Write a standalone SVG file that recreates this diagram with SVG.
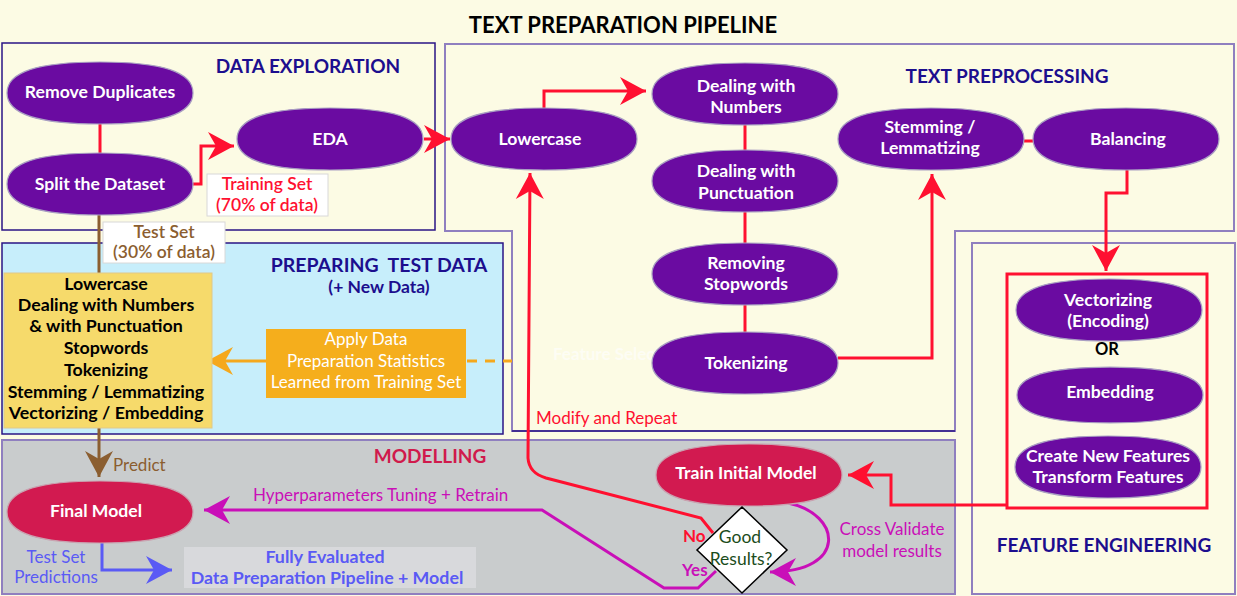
<svg xmlns="http://www.w3.org/2000/svg" xmlns:xlink="http://www.w3.org/1999/xlink" width="1237" height="596" viewBox="0 0 1237 596">
  <style>
    .frame-dark { fill: none; stroke: #2a1485; stroke-width: 1.5; }
    .frame-purple { fill: none; stroke: #8f7fbf; stroke-width: 2; }
    .section { font-family: Lato, "Open Sans", sans-serif; font-weight: 700; fill: #1c0e8e; text-anchor: middle; }
    .node { fill: #6a0ba1; stroke: #a99fc2; stroke-width: 1.2; }
    .node-red { fill: #d21a50; stroke: #c9a2b0; stroke-width: 1.2; }
    .nlabel { font-family: Lato, "Open Sans", sans-serif; font-weight: 700; font-size: 17.6px; fill: #ffffff; text-anchor: middle; }
    .red { fill: none; stroke: #ff1030; stroke-width: 3; }
    .magenta { fill: none; stroke: #c90fb8; stroke-width: 3; }
    .brown { fill: none; stroke: #8b5e30; stroke-width: 3; }
    .blue { fill: none; stroke: #5a5af5; stroke-width: 3; }
    .orange { fill: none; stroke: #f5a81c; stroke-width: 3; }
    .note { font-family: Lato, "Open Sans", sans-serif; font-size: 17.5px; text-anchor: middle; }
  </style>
  <defs>
    <!-- rounded lens shape used for the process steps -->
    <path id="pill" d="M-93,0 C-93,-21 -63,-31 0,-31 C63,-31 93,-21 93,0 C93,21 63,31 0,31 C-63,31 -93,21 -93,0 Z"/>
    <marker id="ah-red" viewBox="-27 -15 28 30" markerWidth="28" markerHeight="30" refX="0" refY="0" orient="auto" markerUnits="userSpaceOnUse">
      <path d="M0,0 L-26,-14 L-18,0 L-26,14 Z" fill="#ff1030"/>
    </marker>
    <marker id="ah-magenta" viewBox="-27 -15 28 30" markerWidth="28" markerHeight="30" refX="0" refY="0" orient="auto" markerUnits="userSpaceOnUse">
      <path d="M0,0 L-26,-14 L-18,0 L-26,14 Z" fill="#c90fb8"/>
    </marker>
    <marker id="ah-brown" viewBox="-27 -15 28 30" markerWidth="28" markerHeight="30" refX="0" refY="0" orient="auto" markerUnits="userSpaceOnUse">
      <path d="M0,0 L-26,-14 L-18,0 L-26,14 Z" fill="#8b5e30"/>
    </marker>
    <marker id="ah-blue" viewBox="-27 -15 28 30" markerWidth="28" markerHeight="30" refX="0" refY="0" orient="auto" markerUnits="userSpaceOnUse">
      <path d="M0,0 L-26,-14 L-18,0 L-26,14 Z" fill="#5a5af5"/>
    </marker>
    <marker id="ah-orange" viewBox="-27 -15 28 30" markerWidth="28" markerHeight="30" refX="0" refY="0" orient="auto" markerUnits="userSpaceOnUse">
      <path d="M0,0 L-26,-14 L-18,0 L-26,14 Z" fill="#f5a81c"/>
    </marker>
  </defs>

  <!-- page -->
  <rect x="0" y="0" width="1237" height="596" fill="#fcfbe4"/>
  <text x="623" y="33" font-family="Lato, 'Open Sans', sans-serif" font-weight="700" font-size="22" fill="#000" text-anchor="middle">TEXT PREPARATION PIPELINE</text>

  <!-- section frames -->
  <g id="sections">
    <rect class="frame-dark" x="2" y="43" width="433" height="187"/>
    <path class="frame-purple" d="M445,44 H1234 V231 H955 V431 H512 V231 H445 Z"/>
    <path d="M512,431 H955" fill="none" stroke="#2a1485" stroke-width="1.5"/>
    <rect class="frame-purple" x="972" y="243" width="263" height="351"/>
    <rect x="2" y="243" width="501" height="191" fill="#c7eefb" stroke="#2a1485" stroke-width="1.5"/>
    <rect x="2" y="440" width="953" height="154" fill="#c9cccd" stroke="#8f7fbf" stroke-width="2"/>
    <text class="section" x="308" y="73" font-size="19">DATA EXPLORATION</text>
    <text class="section" x="1007" y="83" font-size="19">TEXT PREPROCESSING</text>
    <text class="section" x="379" y="272" font-size="19.5" xml:space="preserve">PREPARING  TEST DATA</text>
    <text class="section" x="379" y="293" font-size="17.5">(+ New Data)</text>
    <text class="section" x="430" y="463" font-size="19" style="fill:#d01a4c">MODELLING</text>
    <text class="section" x="1104" y="552" font-size="19">FEATURE ENGINEERING</text>
    <!-- faint label partly hidden behind the Tokenizing step -->
    <text x="553" y="360" font-family="Lato, sans-serif" font-weight="700" font-size="17" fill="#ffffff" opacity="0.6">Feature Selection</text>
  </g>

  <!-- connectors -->
  <g id="connectors">
    <path class="red" d="M100,123 V154"/>
    <path class="red" d="M193,184 H201 V146 H234" marker-end="url(#ah-red)"/>
    <path class="red" d="M424,139 H450" marker-end="url(#ah-red)"/>
    <path class="red" d="M544,108 V91 H646" marker-end="url(#ah-red)"/>
    <path class="red" d="M745,125 V150"/>
    <path class="red" d="M745,212 V243"/>
    <path class="red" d="M745,305 V333"/>
    <path class="red" d="M838,358 H932 V174" marker-end="url(#ah-red)"/>
    <path class="red" d="M1024,141 H1034"/>
    <path class="red" d="M1127,170 V193 H1106 V271" marker-end="url(#ah-red)"/>
    <path class="red" d="M1007,505 H891 V475 H848" marker-end="url(#ah-red)"/>
    <path class="red" d="M713,533 L701,518 L546,478 Q529,473 528,458 L530,173" marker-end="url(#ah-red)"/>
    <path class="magenta" d="M716,571 L698,588 H664 L542,510 H204" marker-end="url(#ah-magenta)"/>
    <path class="magenta" d="M788,503 C842,514 848,572 770,572" marker-end="url(#ah-magenta)"/>
    <path class="brown" d="M99,215 V477" marker-end="url(#ah-brown)"/>
    <path class="blue" d="M102,543 V570 H172" marker-end="url(#ah-blue)"/>
    <path class="orange" d="M266,361 H207" marker-end="url(#ah-orange)"/>
    <path class="orange" d="M467,361 H512" stroke-dasharray="10 8"/>
  </g>

  <!-- data exploration -->
  <g id="remove-duplicates">
    <use href="#pill" xlink:href="#pill" x="100" y="93" class="node"/>
    <text class="nlabel" x="100" y="98">Remove Duplicates</text>
  </g>
  <g id="split-dataset">
    <use href="#pill" xlink:href="#pill" x="100" y="184" class="node"/>
    <text class="nlabel" x="100" y="190">Split the Dataset</text>
  </g>
  <g id="eda">
    <use href="#pill" xlink:href="#pill" x="330" y="139" class="node"/>
    <text class="nlabel" x="330" y="145">EDA</text>
  </g>
  <g id="training-set-label">
    <rect x="207" y="174" width="121" height="42" fill="#ffffff" stroke="#d8d8d8" stroke-width="1"/>
    <text class="note" x="267" y="190" fill="#ff1030" font-weight="600">Training Set</text>
    <text class="note" x="267" y="211" fill="#ff1030" font-weight="600">(70% of data)</text>
  </g>
  <g id="test-set-label">
    <rect x="103" y="222" width="122" height="41" fill="#ffffff" stroke="#d8d8d8" stroke-width="1"/>
    <text class="note" x="164" y="238" fill="#8b5e30" font-weight="600">Test Set</text>
    <text class="note" x="164" y="258" fill="#8b5e30" font-weight="600">(30% of data)</text>
  </g>

  <!-- text preprocessing -->
  <g id="lowercase">
    <use href="#pill" xlink:href="#pill" x="544" y="139" class="node"/>
    <text class="nlabel" x="540" y="145">Lowercase</text>
  </g>
  <g id="numbers">
    <use href="#pill" xlink:href="#pill" x="745" y="94" class="node"/>
    <text class="nlabel" x="746" y="92">Dealing with</text>
    <text class="nlabel" x="746" y="113">Numbers</text>
  </g>
  <g id="punctuation">
    <use href="#pill" xlink:href="#pill" x="745" y="181" class="node"/>
    <text class="nlabel" x="746" y="177">Dealing with</text>
    <text class="nlabel" x="746" y="199">Punctuation</text>
  </g>
  <g id="stopwords">
    <use href="#pill" xlink:href="#pill" x="745" y="274" class="node"/>
    <text class="nlabel" x="746" y="269">Removing</text>
    <text class="nlabel" x="746" y="290">Stopwords</text>
  </g>
  <g id="tokenizing">
    <use href="#pill" xlink:href="#pill" x="745" y="363" class="node"/>
    <text class="nlabel" x="746" y="369">Tokenizing</text>
  </g>
  <g id="stemming">
    <use href="#pill" xlink:href="#pill" x="931" y="139" class="node"/>
    <text class="nlabel" x="930" y="133">Stemming /</text>
    <text class="nlabel" x="930" y="154">Lemmatizing</text>
  </g>
  <g id="balancing">
    <use href="#pill" xlink:href="#pill" x="1126" y="139" class="node"/>
    <text class="nlabel" x="1128" y="145">Balancing</text>
  </g>
  <text x="536" y="424" font-family="Lato, sans-serif" font-size="17" fill="#ff1030">Modify and Repeat</text>

  <!-- feature engineering -->
  <g id="feature-options">
    <rect x="1007" y="274" width="200" height="234" fill="none" stroke="#ff1030" stroke-width="3"/>
  </g>
  <g id="vectorizing">
    <use href="#pill" xlink:href="#pill" x="1109" y="310" class="node"/>
    <text class="nlabel" x="1108" y="306">Vectorizing</text>
    <text class="nlabel" x="1108" y="327">(Encoding)</text>
  </g>
  <text x="1107" y="355" font-family="Lato, sans-serif" font-weight="700" font-size="16.5" fill="#000" text-anchor="middle">OR</text>
  <g id="embedding">
    <use href="#pill" xlink:href="#pill" transform="translate(1110,395) scale(1,0.9)" class="node"/>
    <text class="nlabel" x="1110" y="398">Embedding</text>
  </g>
  <g id="create-features">
    <use href="#pill" xlink:href="#pill" x="1108" y="467" class="node"/>
    <text class="nlabel" x="1108" y="462">Create New Features</text>
    <text class="nlabel" x="1108" y="483">Transform Features</text>
  </g>

  <!-- preparing test data -->
  <g id="test-steps">
    <rect x="4" y="273" width="208" height="155" fill="#f6da6b" stroke="#e0c88a" stroke-width="1"/>
    <g font-family="Lato, sans-serif" font-weight="700" font-size="17.8" fill="#000" text-anchor="middle">
      <text x="106" y="290">Lowercase</text>
      <text x="106" y="311">Dealing with Numbers</text>
      <text x="106" y="332">&amp; with Punctuation</text>
      <text x="106" y="354">Stopwords</text>
      <text x="106" y="376">Tokenizing</text>
      <text x="106" y="398">Stemming / Lemmatizing</text>
      <text x="106" y="419">Vectorizing / Embedding</text>
    </g>
  </g>
  <g id="apply-statistics">
    <rect x="266" y="329" width="200" height="69" fill="#f5ae1c"/>
    <g font-family="Lato, sans-serif" font-size="17" fill="#ffffff" text-anchor="middle">
      <text x="366" y="345">Apply Data</text>
      <text x="366" y="367">Preparation Statistics</text>
      <text x="366" y="388">Learned from Training Set</text>
    </g>
  </g>

  <!-- modelling -->
  <g id="train-initial">
    <use href="#pill" xlink:href="#pill" x="749" y="475" class="node-red"/>
    <text class="nlabel" x="746" y="479">Train Initial Model</text>
  </g>
  <g id="good-results">
    <path d="M742,507 L787,550 L742,593 L697,550 Z" fill="#ffffff" stroke="#000" stroke-width="1.5"/>
    <g font-family="Lato, sans-serif" font-size="17.5" fill="#1b4d1b" text-anchor="middle">
      <text x="740" y="543">Good</text>
      <text x="741" y="565">Results?</text>
    </g>
  </g>
  <g id="final-model">
    <use href="#pill" xlink:href="#pill" x="100" y="512" class="node-red"/>
    <text class="nlabel" x="96" y="517">Final Model</text>
  </g>
  <g id="evaluated">
    <rect x="184" y="547" width="292" height="41" fill="#d8d9dc"/>
    <g font-family="Lato, sans-serif" font-weight="700" font-size="17.8" fill="#5a5af5" text-anchor="middle">
      <text x="325" y="563">Fully Evaluated</text>
      <text x="327" y="584">Data Preparation Pipeline + Model</text>
    </g>
  </g>
  <g font-family="Lato, sans-serif" font-size="17">
    <text x="113" y="471" fill="#8b5e30">Predict</text>
    <text x="253" y="501" fill="#c90fb8">Hyperparameters Tuning + Retrain</text>
    <text x="683" y="542" fill="#ff1030" font-weight="700">No</text>
    <text x="682" y="576" fill="#c90fb8" font-weight="700">Yes</text>
    <text x="892" y="535" fill="#c90fb8" text-anchor="middle">Cross Validate</text>
    <text x="892" y="557" fill="#c90fb8" text-anchor="middle">model results</text>
    <text x="56" y="563" fill="#5a5af5" text-anchor="middle">Test Set</text>
    <text x="56" y="583" fill="#5a5af5" text-anchor="middle">Predictions</text>
  </g>
</svg>
